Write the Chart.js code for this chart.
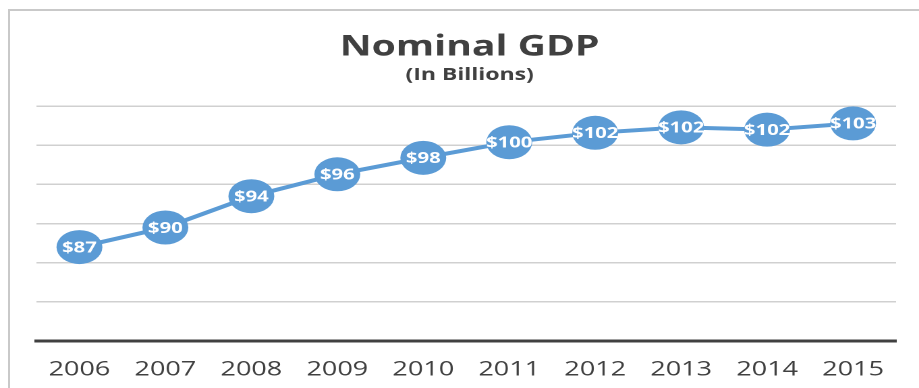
<!DOCTYPE html>
<html>
<head>
<meta charset="utf-8">
<script src="https://cdn.jsdelivr.net/npm/chart.js@4.4.0/dist/chart.umd.min.js"></script>
<style>
  body { margin: 0; background: #fff; overflow: hidden; }
  #frame { position: absolute; left: 8px; top: 9px; width: 1000px; height: 500px;
           border-left: 2px solid #c9c9c9; border-top: 2px solid #c9c9c9; }
  #wrap { position: absolute; left: 0; top: 0; width: 681px; height: 388px;
          transform: scaleX(1.3495); transform-origin: 0 0; }
</style>
</head>
<body>
<div id="frame"></div>
<div id="wrap"><canvas id="gdpChart" width="681" height="388"></canvas></div>
<script>
// data
const years = ["2006", "2007", "2008", "2009", "2010", "2011", "2012", "2013", "2014", "2015"];
const gdp = [87.0, 89.5, 93.5, 96.3, 98.4, 100.4, 101.6, 102.3, 102.0, 102.8];
const yMin = 75;
const yMax = 105;
const yStep = 5;

const blue = "#5B9BD5";
const dark = "#404040";

// white "$xx" labels inside the markers
const valueLabels = {
  id: "valueLabels",
  afterDatasetsDraw(chart) {
    const ctx = chart.ctx;
    const meta = chart.getDatasetMeta(0);
    ctx.save();
    ctx.fillStyle = "#ffffff";
    ctx.font = "bold 15px 'Open Sans'";
    ctx.textAlign = "center";
    ctx.textBaseline = "middle";
    meta.data.forEach((pt, i) => {
      ctx.fillText("$" + Math.round(gdp[i]), pt.x, pt.y + 1);
    });
    ctx.restore();
  },
};

const gdpChart = new Chart(document.getElementById("gdpChart").getContext("2d"), {
  type: "line",
  data: {
    labels: years,
    datasets: [
      {
        data: gdp,
        borderColor: blue,
        backgroundColor: blue,
        borderWidth: 4,
        tension: 0,
        fill: false,
        pointRadius: 17,
        pointHoverRadius: 17,
        pointBorderWidth: 0,
        pointBackgroundColor: blue,
        clip: false,
      },
    ],
  },
  options: {
    responsive: false,
    animation: false,
    devicePixelRatio: 2,
    layout: {
      padding: { left: 27, right: 12, top: 0, bottom: 0 },
    },
    scales: {
      x: {
        offset: true,
        grid: { display: false },
        border: { display: true, color: dark, width: 3 },
        ticks: {
          color: dark,
          padding: 9,
          maxRotation: 0,
          font: { family: "'Open Sans'", size: 20 },
        },
        afterFit(scale) {
          scale.height = 47;
        },
      },
      y: {
        min: yMin,
        max: yMax,
        ticks: { stepSize: yStep, display: false },
        border: { display: false },
        grid: {
          drawTicks: false,
          lineWidth: 1.5,
          color: (c) => (c.tick && c.tick.value === yMin ? "rgba(0,0,0,0)" : "#d0d0d0"),
        },
        afterFit(scale) {
          scale.width = 0;
        },
      },
    },
    plugins: {
      legend: { display: false },
      tooltip: { enabled: false },
      title: {
        display: true,
        text: "Nominal GDP",
        color: dark,
        font: { family: "'Open Sans'", size: 29, weight: "bold" },
        padding: { top: 30, bottom: 0 },
      },
      subtitle: {
        display: true,
        text: "(In Billions)",
        color: dark,
        font: { family: "'Open Sans'", size: 17, weight: "bold" },
        padding: { top: 0, bottom: 21 },
      },
    },
  },
  plugins: [valueLabels],
});
</script>
</body>
</html>
